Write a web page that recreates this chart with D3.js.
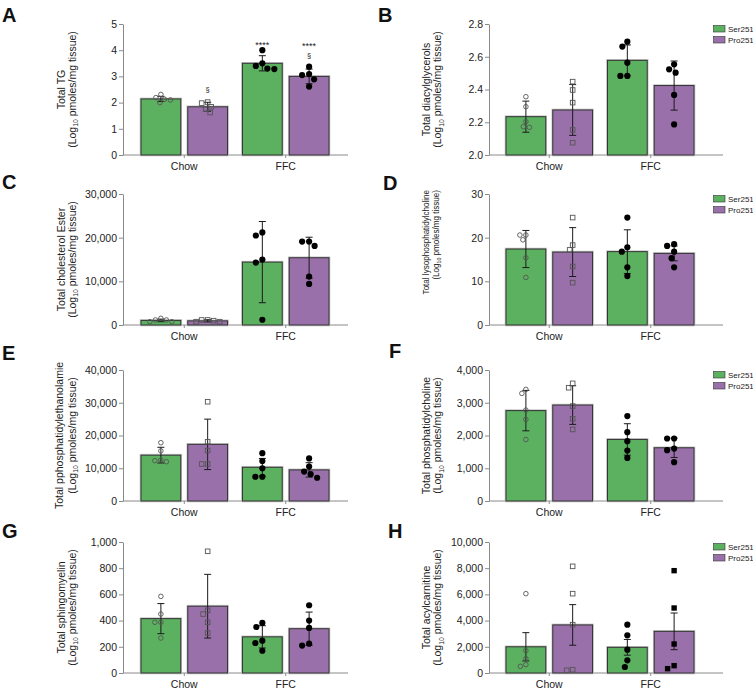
<!DOCTYPE html>
<html><head><meta charset="utf-8">
<script src="https://cdn.jsdelivr.net/npm/d3@7"></script>
<style>
body{margin:0;background:#fff;}
svg{display:block;font-family:"Liberation Sans",Arial,sans-serif;}
</style></head>
<body><svg id="chart" width="753" height="692"></svg>
<script>
// ---------- data ----------
const groups = ["Chow", "FFC"];
const seriesNames = ["Ser251", "Pro251"];
// order of bars: Chow-Ser251, Chow-Pro251, FFC-Ser251, FFC-Pro251

// A: Total TG
const tgMean = [2.14, 1.84, 3.50, 3.00];
const tgSD = [0.10, 0.17, 0.29, 0.28];
const tgPoints = [[2.31, 2.19, 2.13, 2.10, 2.00], [2.02, 1.98, 1.84, 1.75, 1.62], [4.00, 3.50, 3.40, 3.30, 3.28], [3.37, 3.09, 3.05, 2.89, 2.61]];
const tgTicks = [0, 1, 2, 3, 4, 5];
const tgAnnot = [["Chow", "Pro251", "§", 2.40], ["FFC", "Ser251", "****", 4.08], ["FFC", "Pro251", "****", 4.06], ["FFC", "Pro251", "§", 3.71]];

// B: Total diacylglycerols
const dagMean = [2.234, 2.275, 2.578, 2.424];
const dagSD = [0.095, 0.155, 0.094, 0.150];
const dagPoints = [[2.356, 2.295, 2.204, 2.173, 2.169], [2.448, 2.397, 2.320, 2.153, 2.075], [2.692, 2.662, 2.564, 2.483, 2.483], [2.554, 2.523, 2.503, 2.367, 2.187]];
const dagTicks = [2.0, 2.2, 2.4, 2.6, 2.8];

// C: Total cholesterol Ester
const ceMean = [1050, 950, 14400, 15400];
const ceSD = [300, 250, 9300, 4700];
const cePoints = [[760, 1530, 1150, 1150, 760], [760, 990, 1150, 1150, 760], [20500, 21200, 15000, 1200, 14300], [19100, 19100, 18100, 11100, 9400]];
const ceTicks = [0, 10000, 20000, 30000];

// D: Total lysophosphatidylcholine
const lpcMean = [17.4, 16.7, 16.8, 16.4];
const lpcSD = [4.25, 5.6, 5.0, 1.7];
const lpcPoints = [[20.6, 20.6, 19.5, 15.4, 10.9], [24.6, 18.3, 17.2, 13.4, 9.7], [24.6, 17.8, 16.8, 13.2, 11.2], [18.5, 18.1, 16.8, 15.3, 13.2]];
const lpcTicks = [0, 10, 20, 30];

// E: Total pphosphatidylethanolamie
const peMean = [14000, 17300, 10300, 9500];
const peSD = [2400, 7700, 2700, 2200];
const pePoints = [[17800, 15300, 12500, 12300, 12000], [30300, 18100, 15400, 11300, 11300], [14600, 12200, 10000, 7400, 7400], [13000, 10500, 9000, 8200, 7100]];
const peTicks = [0, 10000, 20000, 30000, 40000];

// F: Total phosphatidylcholine
const pcMean = [2760, 2930, 1880, 1625];
const pcSD = [617, 590, 480, 296];
const pcPoints = [[3408, 3286, 2776, 2490, 1878], [3592, 3459, 2898, 2510, 2184], [2592, 2102, 1827, 1541, 1316], [1908, 1908, 1602, 1551, 1184]];
const pcTicks = [0, 1000, 2000, 3000, 4000];

// G: Total sphingomyelin
const smMean = [415, 510, 276, 338];
const smSD = [115, 243, 85, 127];
const smPoints = [[585, 450, 387, 387, 267], [929, 478, 450, 387, 305], [382, 351, 247, 229, 170], [517, 400, 344, 224, 209]];
const smTicks = [0, 200, 400, 600, 800, 1000];

// H: Total acylcarnitine
const acMean = [2000, 3670, 1960, 3180];
const acSD = [1080, 1550, 600, 1400];
const acPoints = [[6056, 1705, 1094, 636, 509], [8142, 6056, 3690, 254, 204], [3690, 2875, 1781, 967, 458], [7812, 4962, 2214, 560, 331]];
const acTicks = [0, 2000, 4000, 6000, 8000, 10000];

// ---------- layout / style ----------
const colors = {Ser251: "#5cb160", Pro251: "#9a70ab"};
const cols = [
  {axisX: 123, barStart: 141, barEnd: 329, axisEnd: 348, t1: 65, t2: 75.5},
  {axisX: 489, barStart: 506, barEnd: 694, axisEnd: 723, t1: 430, t2: 441}
];
const rows = [{top: 24, bottom: 155}, {top: 194, bottom: 325}, {top: 370, bottom: 501}, {top: 542, bottom: 673}];
const defaultMarkers = ["circleOpen", "squareOpen", "circleFilled", "circleFilled"];

const panels = [
  {letter: "A", lx: 2, ly: 22, col: 0, row: 0, title: "Total TG", mean: tgMean, sd: tgSD, pts: tgPoints, ticks: tgTicks, fmt: "d", annot: tgAnnot},
  {letter: "B", lx: 378, ly: 21.5, col: 1, row: 0, title: "Total diacylglycerols", mean: dagMean, sd: dagSD, pts: dagPoints, ticks: dagTicks, fmt: ".1f"},
  {letter: "C", lx: 2, ly: 189, col: 0, row: 1, title: "Total cholesterol Ester", mean: ceMean, sd: ceSD, pts: cePoints, ticks: ceTicks, fmt: ","},
  {letter: "D", lx: 383, ly: 190, col: 1, row: 1, title: "Total lysophosphatidylcholine", mean: lpcMean, sd: lpcSD, pts: lpcPoints, ticks: lpcTicks, fmt: "d", titleSize: 9.6, squeeze: 0.84, titleTop: 190, t1: 428.5, t2: 439},
  {letter: "E", lx: 2, ly: 360, col: 0, row: 2, title: "Total pphosphatidylethanolamie", mean: peMean, sd: peSD, pts: pePoints, ticks: peTicks, fmt: ",", t1: 63},
  {letter: "F", lx: 389, ly: 358, col: 1, row: 2, title: "Total phosphatidylcholine", mean: pcMean, sd: pcSD, pts: pcPoints, ticks: pcTicks, fmt: ","},
  {letter: "G", lx: 2, ly: 538, col: 0, row: 3, title: "Total sphingomyelin", mean: smMean, sd: smSD, pts: smPoints, ticks: smTicks, fmt: ","},
  {letter: "H", lx: 388, ly: 538, col: 1, row: 3, title: "Total acylcarnitine", mean: acMean, sd: acSD, pts: acPoints, ticks: acTicks, fmt: ",", markers: ["circleOpen", "squareOpen", "circleFilled", "squareFilled"]}
];

const svg = d3.select("#chart");
svg.append("rect").attr("width", 753).attr("height", 692).attr("fill", "#fff");

function swarm(vals, yS, minD) {
  const order = vals.map((v, i) => i).sort((a, b) => vals[b] - vals[a]);
  const placed = [];
  const xs = new Array(vals.length);
  order.forEach(i => {
    const py = yS(vals[i]);
    let off = 0;
    for (let k = 0; k < 200; k++) {
      const c = k === 0 ? 0 : ((k % 2) ? -1 : 1) * Math.ceil(k / 2) * 0.5;
      if (placed.every(p => Math.hypot(p.x - c, p.y - py) >= minD)) { off = c; break; }
    }
    placed.push({x: off, y: py});
    xs[i] = off;
  });
  return xs;
}

panels.forEach(p => {
  const C = cols[p.col], R = rows[p.row];
  const g = svg.append("g");
  const ext = d3.extent(p.ticks);
  const y = d3.scaleLinear().domain(ext).range([R.bottom, R.top]);
  const gx = d3.scaleBand().domain(groups).range([C.barStart, C.barEnd]).paddingInner(0.147).paddingOuter(0);
  const sx = d3.scaleBand().domain(seriesNames).range([0, gx.bandwidth()]).paddingInner(0.15).paddingOuter(0);
  const markers = p.markers || defaultMarkers;

  // panel letter
  g.append("text").attr("x", p.lx).attr("y", p.ly).attr("font-size", 20).attr("font-weight", "bold")
    .attr("fill", "#111").text(p.letter);

  // y axis
  const yAx = g.append("g").attr("transform", `translate(${C.axisX},0)`)
    .call(d3.axisLeft(y).tickValues(p.ticks).tickFormat(d3.format(p.fmt)).tickSize(4).tickSizeOuter(0).tickPadding(2));
  yAx.select(".domain").attr("stroke", "#8a8a8a");
  yAx.selectAll(".tick line").attr("stroke", "#8a8a8a");
  yAx.selectAll(".tick text").attr("font-size", 10.5).attr("fill", "#222").attr("font-family", "Liberation Sans, Arial, sans-serif");

  // x axis
  g.append("line").attr("x1", C.axisX).attr("x2", C.axisEnd).attr("y1", R.bottom).attr("y2", R.bottom)
    .attr("stroke", "#8a8a8a");
  const xAx = g.append("g").attr("transform", `translate(0,${R.bottom})`)
    .call(d3.axisBottom(gx).tickSize(3).tickSizeOuter(0).tickPadding(4.5));
  xAx.select(".domain").remove();
  xAx.selectAll(".tick line").attr("stroke", "#8a8a8a");
  xAx.selectAll(".tick text").attr("font-size", 10.5).attr("fill", "#222").attr("font-family", "Liberation Sans, Arial, sans-serif");

  // y title
  const fs = p.titleSize || 10.5;
  const t1 = p.t1 || C.t1, t2 = p.t2 || C.t2;
  const anchorY = p.titleTop !== undefined ? p.titleTop : (R.top + R.bottom) / 2;
  const anchor = p.titleTop !== undefined ? "end" : "middle";
  const sq = p.squeeze || 1;
  g.append("text").attr("transform", `translate(${t1},${anchorY}) rotate(-90) scale(${sq},1)`).attr("text-anchor", anchor)
    .attr("font-size", fs).attr("fill", "#222").text(p.title);
  const tt = g.append("text").attr("transform", `translate(${t2},${anchorY}) rotate(-90) scale(${sq},1)`).attr("text-anchor", anchor)
    .attr("font-size", fs).attr("fill", "#222");
  tt.append("tspan").text("(Log");
  tt.append("tspan").attr("font-size", fs * 0.65).attr("dy", fs * 0.25).text("10");
  tt.append("tspan").attr("dy", -fs * 0.25).text(" pmoles/mg tissue)");

  // bars
  const items = [];
  groups.forEach((gr, gi) => seriesNames.forEach((s, si) => {
    const k = gi * 2 + si;
    items.push({gr, s, k, mean: p.mean[k], sd: p.sd[k], pts: p.pts[k], marker: markers[k]});
  }));
  items.forEach(d => {
    const x0 = gx(d.gr) + sx(d.s), w = sx.bandwidth();
    const yt = y(d.mean), h = y(ext[0]) - y(d.mean);
    g.append("rect").attr("x", x0).attr("y", yt).attr("width", w).attr("height", h)
      .attr("fill", "none").attr("stroke", "#c4c4c4").attr("stroke-width", 2.6);
    g.append("rect").attr("x", x0).attr("y", yt).attr("width", w).attr("height", h)
      .attr("fill", colors[d.s]).attr("stroke", "#333").attr("stroke-width", 1);
  });
  // error bars
  items.forEach(d => {
    const cx = gx(d.gr) + sx(d.s) + sx.bandwidth() / 2;
    const y1 = y(d.mean + d.sd), y2 = y(d.mean - d.sd);
    const eg = g.append("g").attr("stroke", "#1a1a1a").attr("stroke-width", 1);
    eg.append("line").attr("x1", cx).attr("x2", cx).attr("y1", y1).attr("y2", y2);
    eg.append("line").attr("x1", cx - 3.5).attr("x2", cx + 3.5).attr("y1", y1).attr("y2", y1);
    eg.append("line").attr("x1", cx - 3.5).attr("x2", cx + 3.5).attr("y1", y2).attr("y2", y2);
  });
  // points
  items.forEach(d => {
    const cx = gx(d.gr) + sx(d.s) + sx.bandwidth() / 2;
    const open = d.marker.indexOf("Open") >= 0;
    const offs = swarm(d.pts, y, open ? 5.6 : 7);
    d.pts.forEach((v, i) => {
      const px = cx + offs[i], py = y(v);
      if (d.marker === "circleOpen") {
        g.append("circle").attr("cx", px).attr("cy", py).attr("r", 2.3).attr("fill", "none").attr("stroke", "#555").attr("stroke-width", 0.9);
      } else if (d.marker === "squareOpen") {
        g.append("rect").attr("x", px - 2.3).attr("y", py - 2.3).attr("width", 4.6).attr("height", 4.6).attr("fill", "none").attr("stroke", "#555").attr("stroke-width", 0.9);
      } else if (d.marker === "circleFilled") {
        g.append("circle").attr("cx", px).attr("cy", py).attr("r", 3.1).attr("fill", "#000");
      } else {
        g.append("rect").attr("x", px - 2.7).attr("y", py - 2.7).attr("width", 5.4).attr("height", 5.4).attr("fill", "#000");
      }
    });
  });
  // annotations
  (p.annot || []).forEach(a => {
    const cx = gx(a[0]) + sx(a[1]) + sx.bandwidth() / 2;
    g.append("text").attr("x", cx).attr("y", y(a[3])).attr("text-anchor", "middle")
      .attr("font-size", a[2] === "§" ? 7.5 : 9).attr("fill", "#222").text(a[2]);
  });
  // legend (right column)
  if (p.col === 1) {
    seriesNames.forEach((s, i) => {
      g.append("rect").attr("x", 713.5).attr("y", R.top + 1.5 + i * 11).attr("width", 11.5).attr("height", 6.5)
        .attr("fill", colors[s]).attr("stroke", "#333").attr("stroke-width", 0.6);
      g.append("text").attr("x", 728).attr("y", R.top + 7.8 + i * 11).attr("font-size", 8).attr("fill", "#222").text(s);
    });
  }
});
</script></body></html>
